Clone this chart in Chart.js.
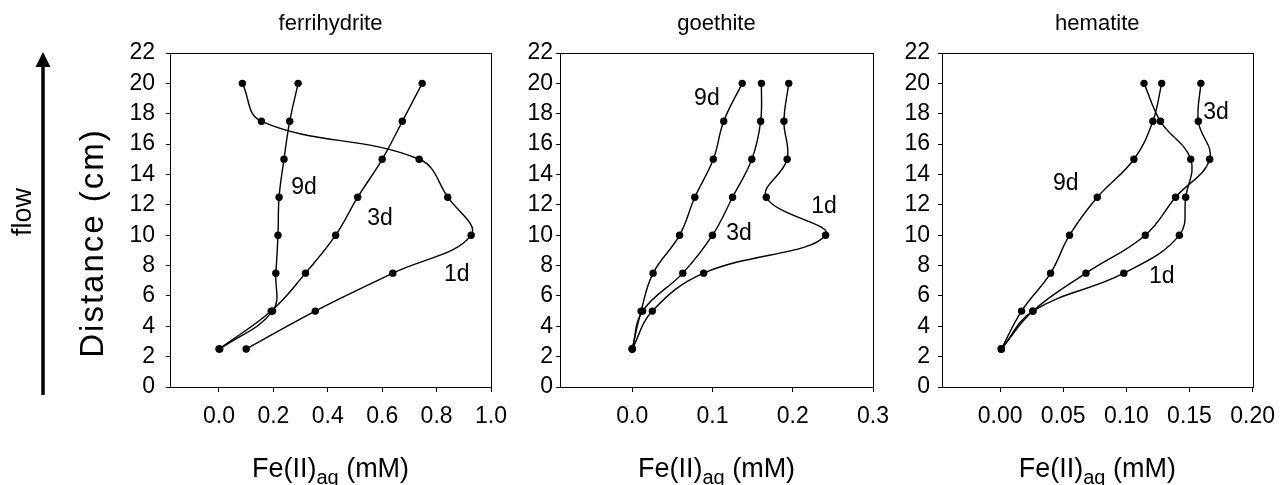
<!DOCTYPE html>
<html>
<head>
<meta charset="utf-8">
<script src="https://cdn.jsdelivr.net/npm/chart.js@4.4.1/dist/chart.umd.min.js"></script>
<style>
  html, body { margin: 0; padding: 0; background: #fff; }
  body { width: 1286px; height: 485px; position: relative; overflow: hidden; }
  .panel { position: absolute; top: 0; height: 485px; }
</style>
</head>
<body>
<div class="panel" style="left:0;width:520px"><canvas id="ferriChart"></canvas></div>
<div class="panel" style="left:520px;width:380px"><canvas id="goethChart"></canvas></div>
<div class="panel" style="left:900px;width:386px"><canvas id="hemChart"></canvas></div>
<script>
// distance along the column (cm), shared by every series
const distance = [2.5, 5, 7.5, 10, 12.5, 15, 17.5, 20];
const distanceTicks = [0, 2, 4, 6, 8, 10, 12, 14, 16, 18, 20, 22];

// Fe(II)aq (mM), same order as distance
const ferri1d = [0.10, 0.354, 0.639, 0.927, 0.841, 0.736, 0.156, 0.086];
const ferri3d = [0.0, 0.192, 0.318, 0.429, 0.510, 0.600, 0.674, 0.747];
const ferri9d = [0.003, 0.197, 0.209, 0.217, 0.221, 0.239, 0.260, 0.291];
const ferriTicks = [0.0, 0.2, 0.4, 0.6, 0.8, 1.0];

const goe1d = [0.0, 0.025, 0.089, 0.241, 0.167, 0.193, 0.189, 0.195];
const goe3d = [0.0, 0.013, 0.063, 0.100, 0.125, 0.149, 0.160, 0.161];
const goe9d = [0.0, 0.011, 0.026, 0.059, 0.078, 0.101, 0.114, 0.137];
const goeTicks = [0.0, 0.1, 0.2, 0.3];

const hem1d = [0.001, 0.026, 0.098, 0.142, 0.147, 0.151, 0.127, 0.114];
const hem3d = [0.001, 0.026, 0.068, 0.115, 0.139, 0.166, 0.157, 0.159];
const hem9d = [0.001, 0.017, 0.040, 0.055, 0.077, 0.106, 0.121, 0.128];
const hemTicks = [0.00, 0.05, 0.10, 0.15, 0.20];

const FONT = "'Liberation Sans', Arial, sans-serif";

const toPoints = (vals) => vals.map((v, i) => ({ x: v, y: distance[i] }));

const series = (label, vals) => ({
  label: label,
  data: toPoints(vals),
  borderColor: "#000",
  borderWidth: 1.4,
  tension: 0.4,
  pointRadius: 3.7,
  pointBackgroundColor: "#000",
  pointBorderWidth: 0,
  fill: false,
});

const decor = {
  id: "decor",
  afterDraw(chart, args, opts) {
    const { ctx, chartArea: a, scales } = chart;
    ctx.save();
    ctx.fillStyle = "#000";
    ctx.strokeStyle = "#000";
    ctx.lineWidth = 1;
    const l = Math.round(a.left) + 0.5, t = Math.round(a.top) + 0.5;
    const r = Math.round(a.right) + 0.5, b = Math.round(a.bottom) + 0.5;
    ctx.strokeRect(l, t, r - l, b - t);

    const cx = (a.left + a.right) / 2;
    ctx.textAlign = "center";
    ctx.textBaseline = "middle";
    ctx.font = "22px " + FONT;
    ctx.fillText(opts.title, cx, 24);

    ctx.font = "23px " + FONT;
    opts.notes.forEach((n) => {
      ctx.fillText(n.text, scales.x.getPixelForValue(n.x), scales.y.getPixelForValue(n.y));
    });

    // x title: Fe(II)aq (mM)
    ctx.textAlign = "left";
    ctx.textBaseline = "alphabetic";
    const big = "27px " + FONT, small = "20px " + FONT;
    ctx.font = big;
    const w1 = ctx.measureText("Fe(II)").width;
    const w3 = ctx.measureText(" (mM)").width;
    ctx.font = small;
    const w2 = ctx.measureText("aq").width;
    let x = cx - (w1 + w2 + w3) / 2;
    ctx.font = big;
    ctx.fillText("Fe(II)", x, 477);
    x += w1;
    ctx.font = small;
    ctx.fillText("aq", x, 484);
    x += w2;
    ctx.font = big;
    ctx.fillText(" (mM)", x, 477);

    if (opts.flow) {
      // flow arrow
      ctx.lineWidth = 3.5;
      ctx.beginPath();
      ctx.moveTo(43, 395);
      ctx.lineTo(43, 62);
      ctx.stroke();
      ctx.beginPath();
      ctx.moveTo(43, 52);
      ctx.lineTo(35.5, 67);
      ctx.lineTo(50.5, 67);
      ctx.closePath();
      ctx.fill();

      ctx.textAlign = "center";
      ctx.textBaseline = "middle";
      ctx.save();
      ctx.translate(24, 212);
      ctx.rotate(-Math.PI / 2);
      ctx.font = "27px " + FONT;
      ctx.fillText("flow", 0, 0);
      ctx.restore();

      ctx.save();
      ctx.translate(94, 243);
      ctx.rotate(-Math.PI / 2);
      ctx.font = "33px " + FONT;
      ctx.letterSpacing = "2px";
      ctx.fillText("Distance (cm)", 0, 0);
      ctx.restore();
    }
    ctx.restore();
  },
};

function makePanel(id, cfg) {
  new Chart(document.getElementById(id), {
    type: "line",
    data: { datasets: cfg.datasets },
    plugins: [decor],
    options: {
      responsive: true,
      maintainAspectRatio: false,
      animation: false,
      layout: { padding: { left: 0, right: cfg.padRight, top: 53, bottom: 48 } },
      plugins: {
        legend: { display: false },
        tooltip: { enabled: false },
        decor: { title: cfg.title, notes: cfg.notes, flow: cfg.flow },
      },
      scales: {
        x: {
          type: "linear",
          min: cfg.xMin,
          max: cfg.xMax,
          afterBuildTicks: (s) => { s.ticks = cfg.xTicks.map((v) => ({ value: v })); },
          afterFit: (s) => { s.height = 50; },
          border: { display: false },
          grid: { drawOnChartArea: false, drawTicks: true, tickLength: 5, color: "#000" },
          ticks: {
            color: "#000",
            font: { size: 23, family: FONT },
            padding: 11,
            autoSkip: false,
            maxRotation: 0,
            callback: (v) => Number(v).toFixed(cfg.decimals),
          },
        },
        y: {
          type: "linear",
          min: 0,
          max: 22,
          afterBuildTicks: (s) => { s.ticks = distanceTicks.map((v) => ({ value: v })); },
          afterFit: (s) => { s.width = cfg.yWidth; },
          border: { display: false },
          grid: { drawOnChartArea: false, drawTicks: true, tickLength: 4, color: "#000" },
          ticks: {
            color: "#000",
            font: { size: 23, family: FONT },
            padding: cfg.yPad,
            autoSkip: false,
          },
        },
      },
    },
  });
}

makePanel("ferriChart", {
  title: "ferrihydrite",
  datasets: [series("1d", ferri1d), series("3d", ferri3d), series("9d", ferri9d)],
  xMin: -0.18, xMax: 1.0, xTicks: ferriTicks, decimals: 1,
  yWidth: 170, yPad: 11, padRight: 29, flow: true,
  notes: [
    { text: "9d", x: 0.313, y: 13.1 },
    { text: "3d", x: 0.592, y: 11.1 },
    { text: "1d", x: 0.874, y: 7.4 },
  ],
});

makePanel("goethChart", {
  title: "goethite",
  datasets: [series("1d", goe1d), series("3d", goe3d), series("9d", goe9d)],
  xMin: -0.09, xMax: 0.3, xTicks: goeTicks, decimals: 1,
  yWidth: 40, yPad: 3, padRight: 19, flow: false,
  notes: [
    { text: "9d", x: 0.093, y: 19.0 },
    { text: "3d", x: 0.133, y: 10.1 },
    { text: "1d", x: 0.239, y: 11.9 },
  ],
});

makePanel("hemChart", {
  title: "hematite",
  datasets: [series("1d", hem1d), series("3d", hem3d), series("9d", hem9d)],
  xMin: -0.046, xMax: 0.2, xTicks: hemTicks, decimals: 2,
  yWidth: 42, yPad: 8, padRight: 23, flow: false,
  notes: [
    { text: "9d", x: 0.052, y: 13.4 },
    { text: "3d", x: 0.171, y: 18.1 },
    { text: "1d", x: 0.128, y: 7.3 },
  ],
});
</script>
</body>
</html>
